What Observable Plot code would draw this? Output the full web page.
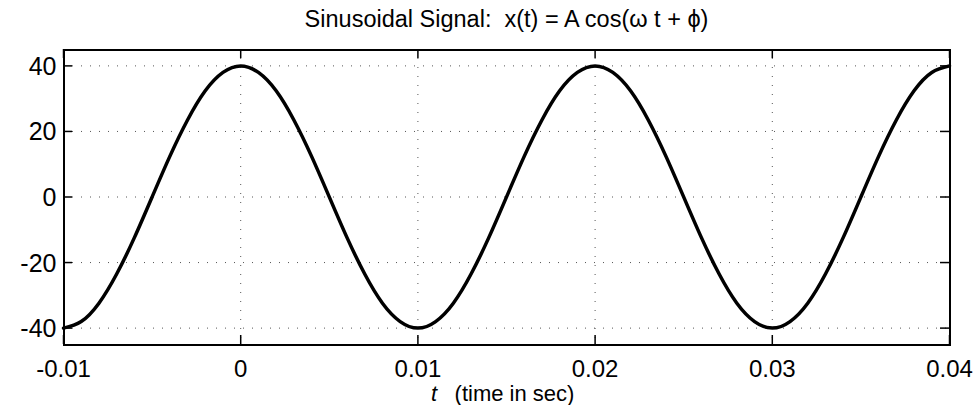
<!DOCTYPE html>
<html>
<head>
<meta charset="utf-8">
<script src="https://cdn.jsdelivr.net/npm/d3@7"></script>
<script src="https://cdn.jsdelivr.net/npm/@observablehq/plot@0.6"></script>
<style>
  html, body { margin: 0; padding: 0; background: #fff; }
  svg { display: block; }
</style>
</head>
<body>
<div id="chart"></div>
<script>
const titleText = "Sinusoidal Signal:  x(t) = A cos(\u03C9 t + \u03D5)";
const xLabelVar = "t";
const xLabelRest = "(time in sec)";

const xTicks = [-0.01, 0, 0.01, 0.02, 0.03, 0.04];
const xTickLabels = ["-0.01", "0", "0.01", "0.02", "0.03", "0.04"];
const yTicks = [-40, -20, 0, 20, 40];
const yTickLabels = ["-40", "-20", "0", "20", "40"];

const tValues = [
  -0.010, -0.009, -0.008, -0.007, -0.006, -0.005, -0.004, -0.003, -0.002, -0.001,
   0.000,  0.001,  0.002,  0.003,  0.004,  0.005,  0.006,  0.007,  0.008,  0.009,
   0.010,  0.011,  0.012,  0.013,  0.014,  0.015,  0.016,  0.017,  0.018,  0.019,
   0.020,  0.021,  0.022,  0.023,  0.024,  0.025,  0.026,  0.027,  0.028,  0.029,
   0.030,  0.031,  0.032,  0.033,  0.034,  0.035,  0.036,  0.037,  0.038,  0.039,
   0.040
];
const xValues = [
  -40, -38.0, -32.4, -23.5, -12.4, 0, 12.4, 23.5, 32.4, 38.0,
   40,  38.0,  32.4,  23.5,  12.4, 0, -12.4, -23.5, -32.4, -38.0,
  -40, -38.0, -32.4, -23.5, -12.4, 0, 12.4, 23.5, 32.4, 38.0,
   40,  38.0,  32.4,  23.5,  12.4, 0, -12.4, -23.5, -32.4, -38.0,
  -40, -38.0, -32.4, -23.5, -12.4, 0, 12.4, 23.5, 32.4, 38.0,
   40
];

const signal = tValues.map((t, i) => ({t, x: xValues[i]}));

const W = 977, H = 405;
const mL = 63, mR = 28, mT = 49, mB = 61;
const frameH = H - mT - mB, frameW = W - mL - mR;
const tick = 9;
const font = "Liberation Sans, Arial, Helvetica, sans-serif";

const chart = Plot.plot({
  width: W,
  height: H,
  marginLeft: mL,
  marginRight: mR,
  marginTop: mT,
  marginBottom: mB,
  style: {fontFamily: font, background: "#fff", color: "#000"},
  x: {domain: [-0.01, 0.04]},
  y: {domain: [-45, 45]},
  marks: [
    Plot.gridX(xTicks, {stroke: "#555", strokeOpacity: 1, strokeWidth: 1, strokeDasharray: "1,8"}),
    Plot.gridY(yTicks, {stroke: "#555", strokeOpacity: 1, strokeWidth: 1, strokeDasharray: "1,8"}),
    // inward ticks on all four sides
    Plot.tickX(xTicks, {x: d => d, stroke: "#000", strokeWidth: 1.5, insetTop: frameH - tick}),
    Plot.tickX(xTicks, {x: d => d, stroke: "#000", strokeWidth: 1.5, insetBottom: frameH - tick}),
    Plot.tickY(yTicks, {y: d => d, stroke: "#000", strokeWidth: 1.5, insetRight: frameW - tick}),
    Plot.tickY(yTicks, {y: d => d, stroke: "#000", strokeWidth: 1.5, insetLeft: frameW - tick}),
    Plot.axisX(xTicks, {tickSize: 0, tickPadding: 15, fontSize: 24, label: null,
      tickFormat: (d, i) => xTickLabels[i]}),
    Plot.axisY(yTicks, {tickSize: 0, tickPadding: 7, dy: 1, fontSize: 25, label: null,
      tickFormat: (d, i) => yTickLabels[i]}),
    Plot.line(signal, {x: "t", y: "x", stroke: "#000", strokeWidth: 3.5, curve: "natural"}),
    Plot.frame({stroke: "#000", strokeWidth: 2}),
    Plot.text([titleText], {frameAnchor: "top", dy: -30.5, lineAnchor: "middle", fontSize: 23.5, fill: "#000"}),
    Plot.text([xLabelVar], {frameAnchor: "bottom", dx: -72.5, dy: 49.5, lineAnchor: "middle", fontSize: 22, fontStyle: "italic", fill: "#000"}),
    Plot.text([xLabelRest], {frameAnchor: "bottom", dx: 8, dy: 49.5, lineAnchor: "middle", fontSize: 22, fill: "#000"})
  ]
});
d3.select(chart).selectAll("[aria-label=frame] rect, rect[aria-label=frame]").attr("shape-rendering", "crispEdges");
document.getElementById("chart").appendChild(chart);
</script>
</body>
</html>
